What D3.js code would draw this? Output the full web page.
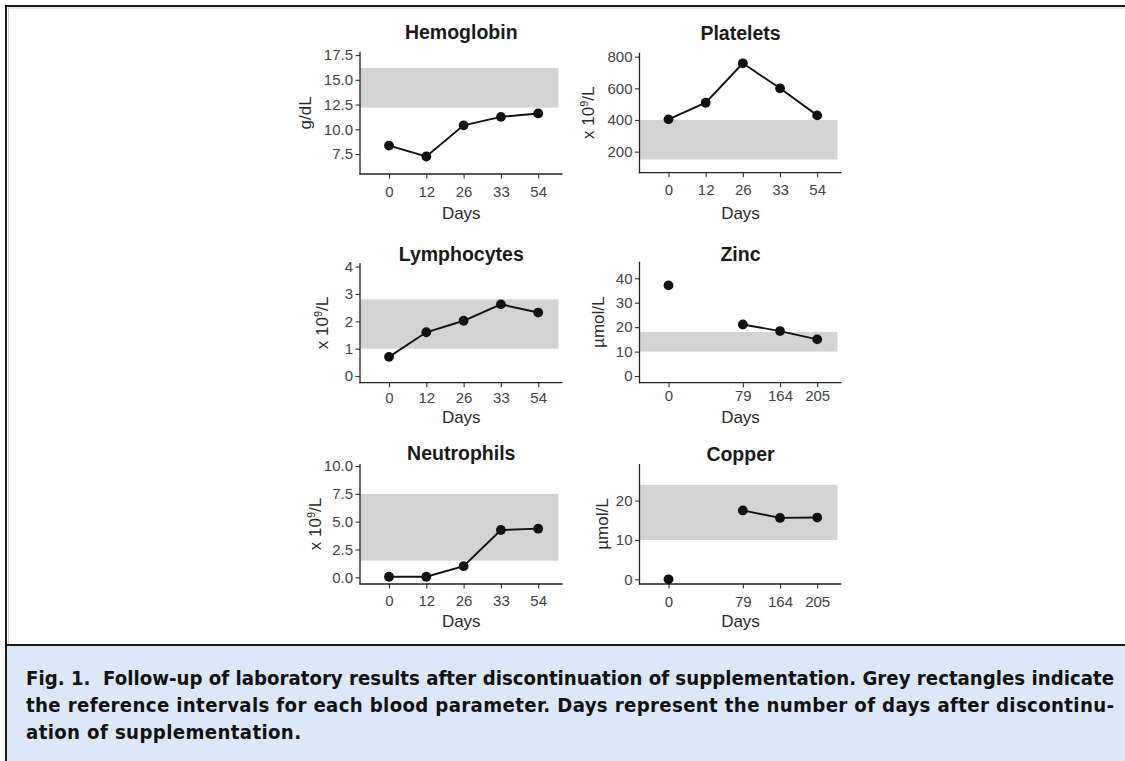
<!DOCTYPE html>
<html><head><meta charset="utf-8">
<script src="https://cdn.jsdelivr.net/npm/d3@7"></script>
<style>body{margin:0;background:#fff}svg{display:block}</style>
</head><body><svg id="c" width="1125" height="761"></svg>
<script>
// ---------- data ----------
const bloodDays = ["0", "12", "26", "33", "54"];
const hemoglobin = [8.35, 7.25, 10.4, 11.25, 11.6];
const platelets = [404, 509, 758, 600, 429];
const lymphocytes = [0.7, 1.6, 2.02, 2.62, 2.32];
const neutrophils = [0.05, 0.05, 1.0, 4.25, 4.37];

const traceLevels = ["0", " ", "79", "164", "205"]; // " " = unlabelled empty level
const traceDays = ["0", "79", "164", "205"];
const traceLinked = [false, true, true, true];
const zinc = [37.1, 21.1, 18.4, 15.0];
const copper = [0, 17.5, 15.6, 15.7];

const hemoRef = [12.2, 16.2];
const plateletRef = [150, 400];
const lymphRef = [1.0, 2.8];
const zincRef = [10, 18];
const neutroRef = [1.5, 7.5];
const copperRef = [10, 24];

const hemoTicks = [7.5, 10, 12.5, 15, 17.5];
const plateletTicks = [200, 400, 600, 800];
const lymphTicks = [0, 1, 2, 3, 4];
const zincTicks = [0, 10, 20, 30, 40];
const neutroTicks = [0, 2.5, 5, 7.5, 10];
const copperTicks = [0, 10, 20];

const captionLines = [
  "Fig. 1.  Follow-up of laboratory results after discontinuation of supplementation. Grey rectangles indicate",
  "the reference intervals for each blood parameter. Days represent the number of days after discontinu-",
  "ation of supplementation."
];

// ---------- layout ----------
const cols = [{left: 360, right: 562.5}, {left: 639.5, right: 841.5}];
const panels = [
  {title: "Hemoglobin", unit: ["g/dL"], levels: bloodDays, days: bloodDays, values: hemoglobin, linked: null,
   ref: hemoRef, ticks: hemoTicks, fmt: ".1f", domain: [5.48, 17.84], col: 0,
   top: 51.7, bottom: 174, titleY: 39.3, tickBase: 197, daysBase: 218.5, unitX: 305},
  {title: "Platelets", unit: ["x 10", "9", "/L"], levels: bloodDays, days: bloodDays, values: platelets, linked: null,
   ref: plateletRef, ticks: plateletTicks, fmt: "d", domain: [67, 825], col: 1,
   top: 52.7, bottom: 172.7, titleY: 40, tickBase: 195.5, daysBase: 219, unitX: 588},
  {title: "Lymphocytes", unit: ["x 10", "9", "/L"], levels: bloodDays, days: bloodDays, values: lymphocytes, linked: null,
   ref: lymphRef, ticks: lymphTicks, fmt: "d", domain: [-0.244, 4.12], col: 0,
   top: 263.3, bottom: 382.7, titleY: 260.7, tickBase: 403, daysBase: 423.3, unitX: 322},
  {title: "Zinc", unit: ["µmol/L"], levels: traceLevels, days: traceDays, values: zinc, linked: traceLinked,
   ref: zincRef, ticks: zincTicks, fmt: "d", domain: [-2.73, 46.8], col: 1,
   top: 261.7, bottom: 382.7, titleY: 260.7, tickBase: 401.5, daysBase: 423, unitX: 598},
  {title: "Neutrophils", unit: ["x 10", "9", "/L"], levels: bloodDays, days: bloodDays, values: neutrophils, linked: null,
   ref: neutroRef, ticks: neutroTicks, fmt: ".1f", domain: [-0.6, 10.18], col: 0,
   top: 464, bottom: 584, titleY: 460, tickBase: 605.7, daysBase: 627.3, unitX: 315},
  {title: "Copper", unit: ["µmol/L"], levels: traceLevels, days: traceDays, values: copper, linked: traceLinked,
   ref: copperRef, ticks: copperTicks, fmt: "d", domain: [-1.19, 29.3], col: 1,
   top: 464, bottom: 584, titleY: 461, tickBase: 606.5, daysBase: 627.3, unitX: 602}
];

const FONT = "'Liberation Sans', Arial, Helvetica, sans-serif";
const svg = d3.select("#c");

// ---------- frame ----------
svg.append("rect").attr("x", 7).attr("y", 646).attr("width", 1118).attr("height", 115).attr("fill", "#dce7f8");
svg.append("line").attr("x1", 8).attr("x2", 1125).attr("y1", 8).attr("y2", 8).attr("stroke", "#d0d0d0").attr("stroke-width", 1);
svg.append("line").attr("x1", 8.5).attr("x2", 8.5).attr("y1", 8).attr("y2", 644).attr("stroke", "#d0d0d0").attr("stroke-width", 1);
svg.append("line").attr("x1", 5).attr("x2", 1125).attr("y1", 6).attr("y2", 6).attr("stroke", "#1a1a1a").attr("stroke-width", 2);
svg.append("line").attr("x1", 6).attr("x2", 6).attr("y1", 5).attr("y2", 761).attr("stroke", "#1a1a1a").attr("stroke-width", 2);
svg.append("line").attr("x1", 6).attr("x2", 1125).attr("y1", 645).attr("y2", 645).attr("stroke", "#1a1a1a").attr("stroke-width", 2);

// ---------- panels ----------
panels.forEach(p => {
  const c = cols[p.col];
  const g = svg.append("g");
  const x = d3.scalePoint().domain(p.levels).range([c.left + 29, c.right - 24.3]);
  const y = d3.scaleLinear().domain(p.domain).range([p.bottom, p.top]);

  // reference band
  g.append("rect")
    .attr("x", c.left).attr("width", (c.right - 4) - c.left)
    .attr("y", y(p.ref[1])).attr("height", y(p.ref[0]) - y(p.ref[1]))
    .attr("fill", "#d3d3d3");

  // y axis
  const ya = g.append("g").attr("transform", `translate(${c.left},0)`)
    .call(d3.axisLeft(y).tickValues(p.ticks).tickFormat(d3.format(p.fmt)).tickSize(4.5).tickSizeOuter(0).tickPadding(2.5));
  ya.select(".domain").remove();
  ya.selectAll(".tick line").attr("stroke", "#333").attr("stroke-width", 1.1);
  ya.selectAll(".tick text").attr("font-family", FONT).attr("font-size", 15).attr("fill", "#444");

  // x axis
  const xa = g.append("g").attr("transform", `translate(0,${p.bottom})`)
    .call(d3.axisBottom(x).tickValues(p.days).tickSize(4.5).tickSizeOuter(0));
  xa.select(".domain").remove();
  xa.selectAll(".tick line").attr("stroke", "#333").attr("stroke-width", 1.1);
  xa.selectAll(".tick text").attr("font-family", FONT).attr("font-size", 15).attr("fill", "#444")
    .attr("y", p.tickBase - p.bottom).attr("dy", 0);

  // axis lines
  g.append("line").attr("x1", c.left).attr("x2", c.left).attr("y1", p.top).attr("y2", p.bottom + 0.6)
    .attr("stroke", "#222").attr("stroke-width", 1.3);
  g.append("line").attr("x1", c.left - 0.6).attr("x2", c.right).attr("y1", p.bottom).attr("y2", p.bottom)
    .attr("stroke", "#222").attr("stroke-width", 1.3);

  // line + points
  const pts = p.days.map((d, i) => ({d, v: p.values[i], linked: p.linked ? p.linked[i] : true}));
  const linePts = pts.filter(q => q.linked);
  g.append("path").datum(linePts)
    .attr("d", d3.line().x(q => x(q.d)).y(q => y(q.v)))
    .attr("fill", "none").attr("stroke", "#111").attr("stroke-width", 1.9);
  g.selectAll("circle.pt").data(pts).join("circle")
    .attr("cx", q => x(q.d)).attr("cy", q => y(q.v)).attr("r", 4.9).attr("fill", "#111");

  // title
  g.append("text").attr("x", (c.left + c.right) / 2).attr("y", p.titleY)
    .attr("text-anchor", "middle").attr("font-family", FONT).attr("font-weight", "bold")
    .attr("font-size", 19.5).attr("fill", "#1a1a1a").text(p.title);

  // x title
  g.append("text").attr("x", (c.left + c.right) / 2).attr("y", p.daysBase)
    .attr("text-anchor", "middle").attr("font-family", FONT).attr("font-size", 17).attr("fill", "#2b2b2b").text("Days");

  // y title
  const yc = (p.top + p.bottom) / 2;
  const ut = g.append("text").attr("transform", `translate(${p.unitX + 6},${yc}) rotate(-90)`)
    .attr("text-anchor", "middle").attr("font-family", FONT).attr("font-size", 17).attr("fill", "#2b2b2b");
  if (p.unit.length === 1) {
    ut.text(p.unit[0]);
  } else {
    ut.append("tspan").text(p.unit[0]);
    ut.append("tspan").attr("dy", -6).attr("font-size", 11).text(p.unit[1]);
    ut.append("tspan").attr("dy", 6).text(p.unit[2]);
  }
});

// ---------- caption ----------
const CAP_FONT = "'Liberation Sans Narrow', 'DejaVu Sans Condensed', 'Open Sans', sans-serif";
const capBases = [685, 711.5, 739];
const fullWidth = 1114 - 26;
const capNodes = captionLines.map((t, i) =>
  svg.append("text").attr("x", 26).attr("y", capBases[i])
    .attr("font-family", CAP_FONT).attr("font-weight", "bold").attr("font-stretch", "condensed")
    .style("white-space", "pre")
    .attr("font-size", 21).attr("fill", "#111").text(t));
// shrink the font so the natural width of the longest line fits, then justify
const widest = d3.max(capNodes, n => n.node().getComputedTextLength());
const capSize = 21 * Math.min(1, fullWidth / widest);
capNodes.forEach(n => n.attr("font-size", capSize));
const factor = fullWidth / capNodes[1].node().getComputedTextLength();
capNodes[0].attr("textLength", fullWidth).attr("lengthAdjust", "spacing");
capNodes[1].attr("textLength", fullWidth).attr("lengthAdjust", "spacing");
capNodes[2].attr("textLength", capNodes[2].node().getComputedTextLength() * Math.min(factor, 1.04)).attr("lengthAdjust", "spacing");
</script>
</body></html>
